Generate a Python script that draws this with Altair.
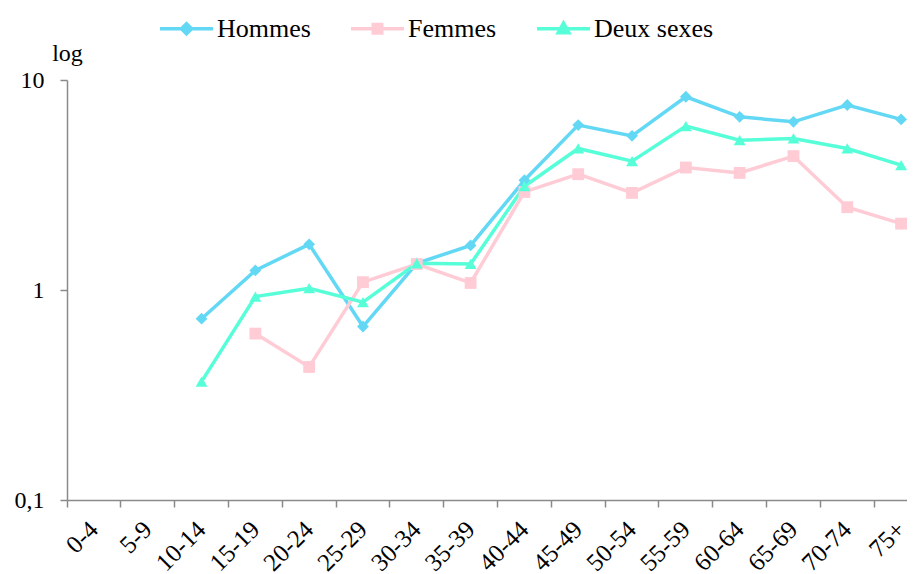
import altair as alt
import pandas as pd

ages = ["0-4", "5-9", "10-14", "15-19", "20-24", "25-29", "30-34", "35-39",
        "40-44", "45-49", "50-54", "55-59", "60-64", "65-69", "70-74", "75+"]
series = ["Hommes", "Femmes", "Deux sexes"]
hommes = [None, None, 0.73, 1.24, 1.65, 0.67, 1.34, 1.63, 3.33, 6.1, 5.42, 8.32, 6.68, 6.32, 7.6, 6.49]
femmes = [None, None, None, 0.62, 0.43, 1.09, 1.33, 1.08, 2.93, 3.56, 2.90, 3.83, 3.61, 4.34, 2.48, 2.07]
deux = [None, None, 0.366, 0.93, 1.02, 0.875, 1.34, 1.33, 3.12, 4.72, 4.11, 6.03, 5.17, 5.27, 4.72, 3.93]
colors = ["#63D8F5", "#FFCCD6", "#57FFD8"]
marker_shapes = ["diamond", "square", "triangle-up"]
legend_paths = [
    "M-1,0L1,0M0,-0.19L0.19,0L0,0.19L-0.19,0Z",
    "M-1,0L1,0M-0.16,-0.16L0.16,-0.16L0.16,0.16L-0.16,0.16Z",
    "M-1,0L1,0M0,-0.21L0.2,0.15L-0.2,0.15Z",
]

rows = []
for name, vals in zip(series, [hommes, femmes, deux]):
    for a, v in zip(ages, vals):
        if v is not None:
            rows.append({"age": a, "value": v, "series": name})
df = pd.DataFrame(rows)

FONT = "Liberation Serif"
x_range_end = 861

x = alt.X("age:N", sort=ages,
          scale=alt.Scale(type="band", domain=ages, range=[0, x_range_end],
                          paddingInner=0, paddingOuter=0),
          axis=alt.Axis(title=None, labelAngle=-45, labelAlign="right",
                        labelBaseline="middle", tickSize=7, bandPosition=0,
                        labelPadding=18, labelFontSize=25, labelFont=FONT,
                        labelColor="black", grid=False))
y = alt.Y("value:Q",
          scale=alt.Scale(type="log", domain=[0.1, 10], nice=False),
          axis=alt.Axis(values=[0.1, 1, 10], tickSize=7, labelPadding=16,
                        labelFontSize=24, labelFont=FONT, labelColor="black",
                        labelExpr="replace(datum.label, '.', ',')",
                        grid=False, title="log", titleAngle=0, titleX=0,
                        titleY=-20, titleAlign="center",
                        titleBaseline="alphabetic", titleFont=FONT,
                        titleFontSize=24, titleFontWeight="normal",
                        titleColor="black"))
color = alt.Color("series:N", scale=alt.Scale(domain=series, range=colors), legend=None)

lines = alt.Chart(df).mark_line(strokeWidth=3.5).encode(x=x, y=y, color=color)
points = alt.Chart(df).mark_point(filled=True, size=140, opacity=1).encode(
    x=x, y=y, color=color,
    shape=alt.Shape("series:N", scale=alt.Scale(domain=series, range=marker_shapes), legend=None))

leg = alt.Legend(title=None, orient="none", legendX=91, legendY=-80,
                 direction="horizontal", labelFont=FONT, labelFontSize=26,
                 labelColor="black", labelOffset=2, columnPadding=33,
                 symbolSize=2809, symbolStrokeWidth=3.5, padding=0)
dummy = alt.Chart(df).mark_point(filled=True, size=2809, strokeWidth=3.5, opacity=1).encode(
    fill=alt.Fill("series:N", scale=alt.Scale(domain=series, range=colors), legend=leg),
    stroke=alt.Stroke("series:N", scale=alt.Scale(domain=series, range=colors), legend=leg),
    shape=alt.Shape("series:N", scale=alt.Scale(domain=series, range=legend_paths), legend=leg),
).transform_filter("false")

chart = alt.layer(lines, points, dummy).resolve_scale(
    shape="independent", fill="independent", stroke="independent"
).properties(
    width=840, height=420,
    autosize=alt.AutoSizeParams(type="none"),
    padding={"left": 59, "top": 72, "right": 0, "bottom": 74},
).configure_view(stroke=None).configure_axis(
    domainColor="#8a8a8a", tickColor="#8a8a8a", domainWidth=1.5, tickWidth=1.5
)

chart.save("out.html", embed_options={"renderer": "svg", "actions": False})
